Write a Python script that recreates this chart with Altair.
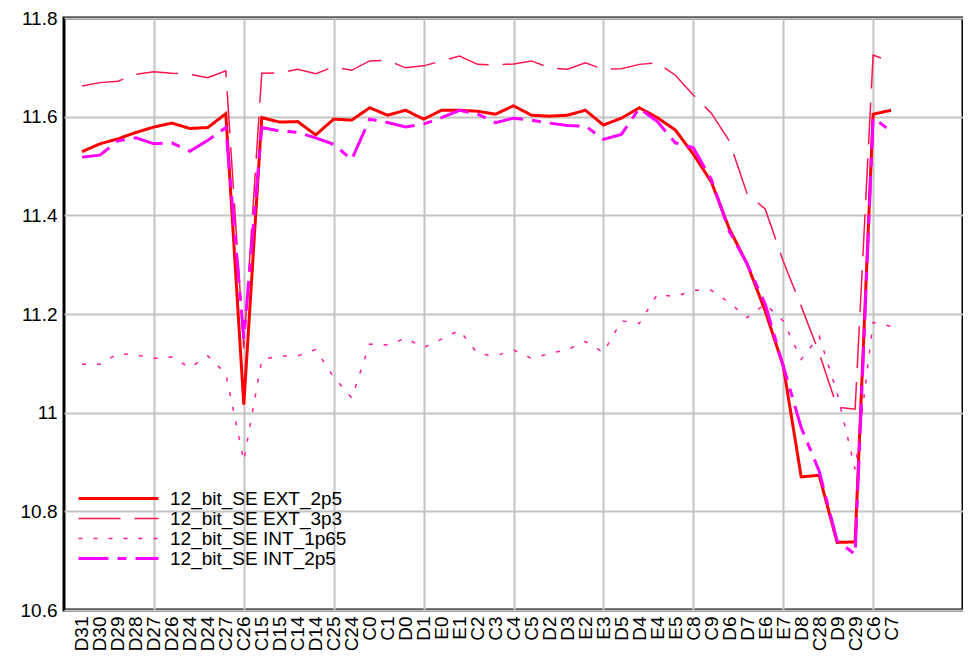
import json
import altair as alt
import pandas as pd

labels = ["D31", "D30", "D29", "D28", "D27", "D26", "D24", "D24", "C27", "C26",
          "C15", "D15", "C14", "D14", "C25", "C24", "C0", "C1", "D0", "D1",
          "E0", "E1", "C2", "C3", "C4", "C5", "D2", "D3", "E2", "E3",
          "D5", "D4", "E4", "E5", "C8", "C9", "D6", "D7", "E6", "E7",
          "D8", "C28", "D9", "C29", "C6", "C7"]

series_names = ["12_bit_SE EXT_2p5", "12_bit_SE EXT_3p3",
                "12_bit_SE INT_1p65", "12_bit_SE INT_2p5"]

ext_2p5 = [11.529, 11.545, 11.555, 11.568, 11.579, 11.587, 11.576, 11.578, 11.606, 11.016,
           11.598, 11.589, 11.590, 11.563, 11.595, 11.593, 11.618, 11.603, 11.613, 11.595,
           11.613, 11.613, 11.611, 11.605, 11.622, 11.603, 11.601, 11.603, 11.613, 11.583,
           11.597, 11.618, 11.598, 11.573, 11.524, 11.468, 11.373, 11.301, 11.206, 11.095,
           10.870, 10.873, 10.737, 10.738, 11.605, 11.613]

ext_3p3 = [11.662, 11.669, 11.672, 11.686, 11.691, 11.688, 11.686, 11.679, 11.693, 11.130,
           11.688, 11.689, 11.696, 11.687, 11.701, 11.694, 11.713, 11.714, 11.699, 11.703,
           11.713, 11.723, 11.706, 11.705, 11.707, 11.713, 11.699, 11.696, 11.709, 11.696,
           11.697, 11.706, 11.709, 11.684, 11.644, 11.607, 11.551, 11.443, 11.413, 11.307,
           11.216, 11.121, 11.011, 11.007, 11.725, 11.711]

int_1p65 = [11.098, 11.098, 11.120, 11.117, 11.110, 11.113, 11.091, 11.115, 11.079, 10.902,
            11.108, 11.115, 11.115, 11.128, 11.072, 11.030, 11.139, 11.137, 11.151, 11.132,
            11.149, 11.167, 11.120, 11.115, 11.127, 11.110, 11.120, 11.128, 11.144, 11.122,
            11.186, 11.181, 11.240, 11.235, 11.248, 11.248, 11.223, 11.193, 11.220, 11.186,
            11.108, 11.155, 11.040, 10.885, 11.183, 11.175]

int_2p5 = [11.518, 11.522, 11.551, 11.557, 11.545, 11.547, 11.530, 11.552, 11.578, 11.150,
           11.578, 11.571, 11.568, 11.557, 11.544, 11.513, 11.595, 11.588, 11.579, 11.585,
           11.598, 11.613, 11.605, 11.588, 11.597, 11.593, 11.587, 11.582, 11.581, 11.554,
           11.564, 11.617, 11.590, 11.547, 11.537, 11.473, 11.368, 11.301, 11.220, 11.095,
           10.970, 10.882, 10.740, 10.713, 11.598, 11.570]

y_ticks = [10.6, 10.8, 11.0, 11.2, 11.4, 11.6, 11.8]

rows = []
for name, vals in zip(series_names, [ext_2p5, ext_3p3, int_1p65, int_2p5]):
    for i, v in enumerate(vals):
        rows.append({"series": name, "pos": i + 1, "value": v})
df = pd.DataFrame(rows)

colors = ["#ff0000", "#ff1450", "#ff1aa0", "#ff00ff"]
dashes = [[1, 0], [42, 14], [4, 11], [30, 9, 9, 9]]
widths = [3, 1.5, 1.5, 3]

FONT = "Liberation Sans"

legend = alt.Legend(
    title=None, orient="none", legendX=45, legendY=471,
    symbolType="M-5,0L5,0", symbolSize=256, labelFontSize=19, labelFont=FONT,
    labelColor="black", labelOffset=42, rowPadding=-1, padding=0, labelLimit=0,
)

label_expr = json.dumps(labels) + "[datum.value - 1]"

chart = alt.Chart(df).mark_line(strokeJoin="miter").encode(
    x=alt.X("pos:Q", scale=alt.Scale(domain=[0, 50], nice=False, zero=False),
            axis=alt.Axis(values=list(range(1, len(labels) + 1)), labelExpr=label_expr,
                          labelAngle=-90, labelFontSize=19, labelFont=FONT,
                          labelColor="black", labelOverlap=False, labelBound=False,
                          labelPadding=6, ticks=False, tickSize=0, domain=False,
                          grid=True, gridColor="#c4c4c4", gridWidth=2,
                          gridOpacity={"condition": {"test": "datum.value % 5 === 0", "value": 1}, "value": 0},
                          title=None)),
    y=alt.Y("value:Q", scale=alt.Scale(domain=[10.6, 11.8], nice=False, zero=False),
            axis=alt.Axis(values=y_ticks, labelExpr="format(datum.value, '.1~f')",
                          labelFontSize=19, labelFont=FONT, labelColor="black",
                          labelPadding=7, ticks=False, tickSize=0, domain=False,
                          grid=True, gridColor="#c4c4c4", gridWidth=2, title=None)),
    color=alt.Color("series:N", scale=alt.Scale(domain=series_names, range=colors), legend=legend),
    strokeDash=alt.StrokeDash("series:N", scale=alt.Scale(domain=series_names, range=dashes), legend=legend),
    strokeWidth=alt.StrokeWidth("series:N", scale=alt.Scale(type="ordinal", domain=series_names, range=widths), legend=legend),
    order="pos:Q",
).properties(
    width=899, height=592,
    background="white",
    autosize=alt.AutoSizeParams(type="none"),
    padding={"left": 56, "top": 10, "right": 0, "bottom": 44},
).configure_view(
    stroke="black", strokeWidth=3,
)

chart.save("out.html", embed_options={"renderer": "svg", "actions": False})
